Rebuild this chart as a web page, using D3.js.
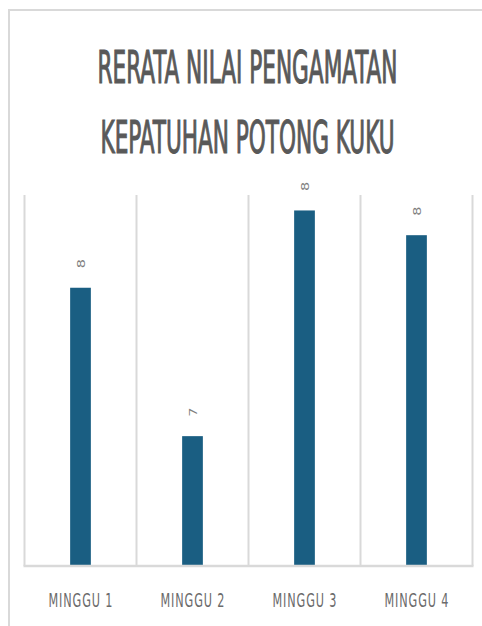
<!DOCTYPE html>
<html>
<head>
<meta charset="utf-8">
<script src="https://cdn.jsdelivr.net/npm/d3@7"></script>
<style>
  body { margin: 0; background: #fff; }
  svg { display: block; }
</style>
</head>
<body>
<div id="chart"></div>
<script>
// data
const categories = ["MINGGU 1", "MINGGU 2", "MINGGU 3", "MINGGU 4"];
const values = [7.9, 7.42, 8.15, 8.07];
const titleLines = ["RERATA NILAI PENGAMATAN", "KEPATUHAN POTONG KUKU"];

let width = 482,
    height = 626;

let svg = d3.select("#chart").append("svg")
    .attr("width", width)
    .attr("height", height);

// chart frame (top + left edge visible)
svg.append("path")
    .attr("d", "M9,626 V10 H482")
    .attr("fill", "none")
    .attr("stroke", "#d9d9d9")
    .attr("stroke-width", 2);

let plot = {left: 24.5, right: 472.5, top: 195, bottom: 566};

let x = d3.scaleBand()
    .domain(categories)
    .range([plot.left, plot.right])
    .paddingInner(0.815)
    .paddingOuter(0.815 / 2);

let xCell = d3.scaleBand()
    .domain(categories)
    .range([plot.left, plot.right]);

let y = d3.scaleLinear()
    .domain([7, 8.2])
    .range([plot.bottom, plot.top]);

// title
svg.append("g").selectAll("text")
    .data(titleLines)
    .enter().append("text")
    .attr("x", 0)
    .attr("y", 0)
    .attr("transform", (d, i) => "translate(247.5," + (83 + i * 70) + ") scale(1,1.6)")
    .attr("text-anchor", "middle")
    .attr("font-family", "DejaVu Sans Condensed, DejaVu Sans, sans-serif")
    .attr("font-size", 28)
    .attr("fill", "#595959")
    .attr("stroke", "#595959")
    .attr("stroke-width", 0.7)
    .attr("textLength", (d, i) => i === 0 ? 300 : 294)
    .attr("lengthAdjust", "spacingAndGlyphs")
    .text(d => d);

// vertical gridlines between categories
let edges = categories.map(c => xCell(c)).concat([xCell(categories[categories.length - 1]) + xCell.bandwidth()]);
svg.append("g").selectAll("line")
    .data(edges)
    .enter().append("line")
    .attr("x1", d => d).attr("x2", d => d)
    .attr("y1", plot.top).attr("y2", plot.bottom)
    .attr("stroke", "#d9d9d9")
    .attr("stroke-width", 2);

// bars
svg.append("g").selectAll("rect")
    .data(values)
    .enter().append("rect")
    .attr("x", (d, i) => x(categories[i]))
    .attr("width", x.bandwidth())
    .attr("y", d => y(d))
    .attr("height", d => y.range()[0] - y(d))
    .attr("fill", "#1a5e82");

// baseline axis
svg.append("line")
    .attr("x1", plot.left - 1).attr("x2", plot.right + 1)
    .attr("y1", plot.bottom).attr("y2", plot.bottom)
    .attr("stroke", "#d9d9d9")
    .attr("stroke-width", 2.5);

// value labels, rotated
svg.append("g").selectAll("text")
    .data(values)
    .enter().append("text")
    .attr("transform", (d, i) => "translate(" + (x(categories[i]) + x.bandwidth() / 2 + 4) + "," + (y(d) - 24) + ") scale(1,1.45) rotate(-90)")
    .attr("text-anchor", "middle")
    .attr("font-family", "DejaVu Sans Condensed, DejaVu Sans, sans-serif")
    .attr("font-size", 11)
    .attr("fill", "#7f7f7f")
    .text(d => d3.format(".0f")(d));

// category labels
svg.append("g").selectAll("text")
    .data(categories)
    .enter().append("text")
    .attr("transform", d => "translate(" + (x(d) + x.bandwidth() / 2) + ",607) scale(1,1.55)")
    .attr("text-anchor", "middle")
    .attr("font-family", "DejaVu Sans Condensed, DejaVu Sans, sans-serif")
    .attr("font-size", 12.5)
    .attr("fill", "#6b6b6b")
    .attr("textLength", 64)
    .attr("lengthAdjust", "spacing")
    .text(d => d);
</script>
</body>
</html>
